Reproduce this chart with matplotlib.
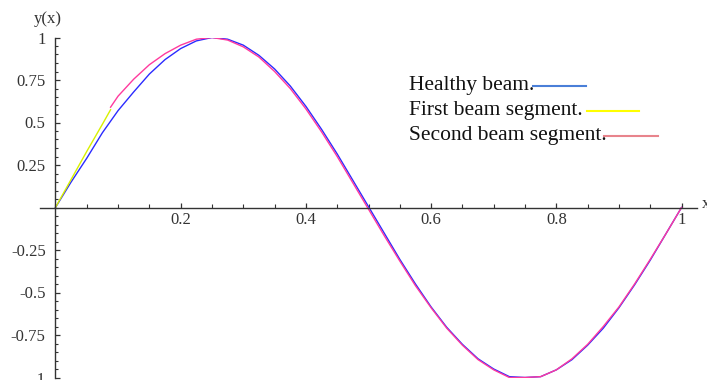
import matplotlib
matplotlib.use('Agg')
import matplotlib.pyplot as plt
from matplotlib.lines import Line2D
from matplotlib.ticker import FixedLocator, MultipleLocator

plt.rcParams['font.family'] = ['Liberation Serif', 'DejaVu Serif']
plt.rcParams['axes.unicode_minus'] = False

# healthy beam (blue)
x_healthy = [0, 0.025, 0.05, 0.075, 0.1, 0.125, 0.15, 0.175, 0.2, 0.225, 0.25,
             0.275, 0.3, 0.325, 0.35, 0.375, 0.4, 0.425, 0.45, 0.475, 0.5,
             0.525, 0.55, 0.575, 0.6, 0.625, 0.65, 0.675, 0.7, 0.725, 0.75,
             0.775, 0.8, 0.825, 0.85, 0.875, 0.9, 0.925, 0.95, 0.975, 1.0]
y_healthy = [0, 0.15, 0.29, 0.44, 0.57, 0.68, 0.785, 0.87, 0.935, 0.98, 1.0,
             0.99, 0.955, 0.895, 0.815, 0.715, 0.595, 0.46, 0.315, 0.16, 0.005,
             -0.15, -0.305, -0.45, -0.585, -0.705, -0.805, -0.89, -0.95, -0.995, -1.0,
             -0.995, -0.955, -0.895, -0.81, -0.71, -0.59, -0.455, -0.31, -0.155, 0.0]

# first beam segment (yellow)
x_first = [0, 0.025, 0.05, 0.075, 0.088]
y_first = [0, 0.165, 0.33, 0.49, 0.575]

# second beam segment (pink)
x_second = [0.088, 0.1, 0.125, 0.15, 0.175, 0.2, 0.225, 0.25, 0.275, 0.3, 0.325,
            0.35, 0.375, 0.4, 0.425, 0.45, 0.475, 0.5, 0.525, 0.55, 0.575, 0.6,
            0.625, 0.65, 0.675, 0.7, 0.725, 0.75, 0.775, 0.8, 0.825, 0.85, 0.875,
            0.9, 0.925, 0.95, 0.975, 1.0]
y_second = [0.59, 0.655, 0.755, 0.84, 0.905, 0.955, 0.99, 1.0, 0.985, 0.945, 0.885,
            0.8, 0.7, 0.58, 0.445, 0.3, 0.145, -0.01, -0.165, -0.315, -0.46, -0.59,
            -0.71, -0.81, -0.895, -0.955, -1.0, -1.0, -0.995, -0.955, -0.89, -0.805, -0.7,
            -0.585, -0.45, -0.305, -0.155, 0.0]

x_ticks = [0.2, 0.4, 0.6, 0.8, 1.0]
x_labels = ['0.2', '0.4', '0.6', '0.8', '1']
y_ticks = [-1, -0.75, -0.5, -0.25, 0.25, 0.5, 0.75, 1]
y_labels = ['-1', '-0.75', '-0.5', '-0.25', '0.25', '0.5', '0.75', '1']

legend_names = ['Healthy beam.', 'First beam segment.', 'Second beam segment.']
legend_colors = ['#4a7fd8', '#ffff00', '#e8848c']

W, H = 707, 380
fig = plt.figure(figsize=(W / 100, H / 100), dpi=100)
ax = fig.add_axes([40 / W, 2.5 / H, 657 / W, 340 / H])

ax.plot(x_healthy, y_healthy, color='#2b2bff', lw=1.0)
ax.plot(x_first, y_first, color='#d8f000', lw=1.0)
ax.plot(x_second, y_second, color='#ff3a9e', lw=1.0)

ax.set_xlim(-0.0247, 1.0247)
ax.set_ylim(-1, 1)

for s in ['top', 'right']:
    ax.spines[s].set_visible(False)
ax.spines['left'].set_position(('data', 0))
ax.spines['bottom'].set_position(('data', 0))
ax.spines['left'].set_bounds(-1, 1)
for s in ['left', 'bottom']:
    ax.spines[s].set_color('#333333')
    ax.spines[s].set_linewidth(1.0)

ax.xaxis.set_major_locator(FixedLocator(x_ticks))
ax.set_xticklabels(x_labels)
ax.yaxis.set_major_locator(FixedLocator(y_ticks))
ax.set_yticklabels(y_labels)
ax.xaxis.set_minor_locator(MultipleLocator(0.05))
ax.yaxis.set_minor_locator(MultipleLocator(0.05))

ax.tick_params(axis='x', which='major', direction='in', length=3.3, width=0.9,
               color='#333333', pad=3.5, labelsize=12, labelcolor='#333333')
ax.tick_params(axis='x', which='minor', direction='in', length=2.6, width=0.8, color='#333333')
ax.tick_params(axis='y', which='major', direction='in', length=3.6, width=0.9,
               color='#333333', pad=7, labelsize=12, labelcolor='#333333')
ax.tick_params(axis='y', which='minor', direction='in', length=2.2, width=0.8, color='#333333')

fig.text(48 / W, 1 - 19 / H, 'y(x)', ha='center', va='center', fontsize=12, color='#333333')
fig.text(702 / W, 1 - 204 / H, 'x', ha='left', va='center', fontsize=12, color='#333333')

# legend: text followed by a short line sample
leg_y = [90, 115, 140]
line_x = [(533, 586), (587, 639), (604, 658)]
for name, col, yb, (x0, x1) in zip(legend_names, legend_colors, leg_y, line_x):
    fig.text(409 / W, 1 - yb / H, name, ha='left', va='baseline', fontsize=15.5, color='#111111')
    fig.add_artist(Line2D([x0 / W, x1 / W], [1 - (yb - 4) / H, 1 - (yb - 4) / H],
                          color=col, lw=1.5, transform=fig.transFigure))

fig.savefig('out.png', dpi=100)
